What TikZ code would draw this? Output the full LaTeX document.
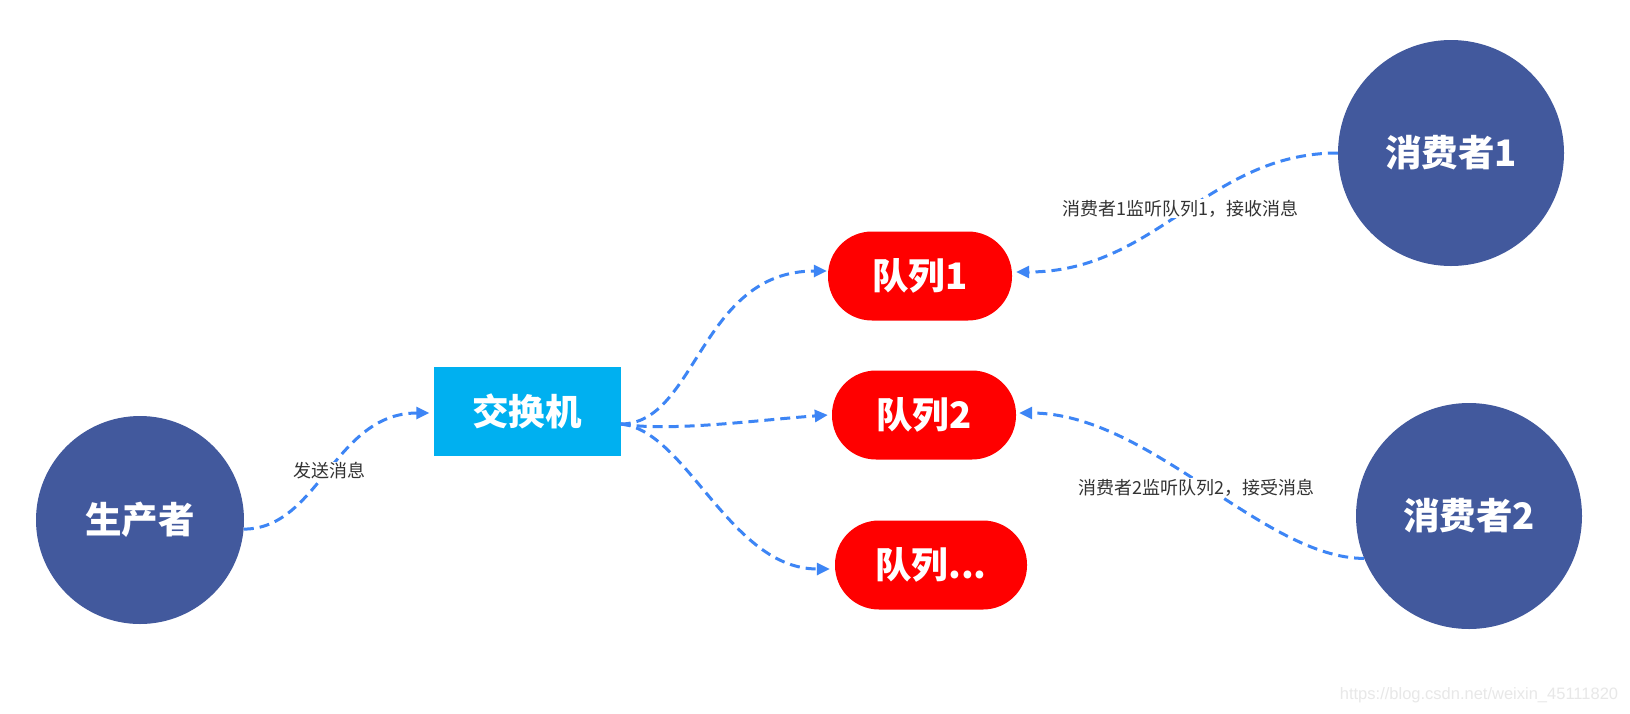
\documentclass[tikz,border=0pt]{standalone}
\usepackage{fontspec}
\newfontfamily\cjk{Noto Sans CJK SC}
\newfontfamily\wmfont{Liberation Sans}
\usetikzlibrary{arrows.meta}
\definecolor{dblue}{RGB}{66,89,157}
\definecolor{cyanbox}{RGB}{0,176,240}
\definecolor{qred}{RGB}{255,0,0}
\definecolor{lineblue}{RGB}{61,133,245}
\definecolor{lbltext}{RGB}{51,51,51}
\definecolor{wmgray}{RGB}{232,232,232}
\begin{document}
\begin{tikzpicture}[x=1pt,y=-1pt,
  bigtxt/.style={text=white, font=\cjk\bfseries\fontsize{36.5}{40}\selectfont},
  actor/.style={circle, fill=dblue, draw=none, bigtxt, inner sep=0pt},
  exbox/.style={rectangle, fill=cyanbox, minimum width=187pt, minimum height=89pt, bigtxt, inner sep=0pt},
  queue/.style={rectangle, rounded corners=44pt, fill=qred, minimum height=89pt, bigtxt, inner sep=0pt},
  flow/.style={draw=lineblue, line width=3pt, dash pattern=on 10pt off 6pt, -{Triangle[length=13pt,width=12pt]}},
  lbl/.style={fill=white, text=lbltext, font=\cjk\fontsize{18}{21}\selectfont, inner sep=1pt},
  wmark/.style={text=wmgray, font=\wmfont\fontsize{16.5}{19}\selectfont, inner sep=0pt}
]
\useasboundingbox[fill=white] (0,0) rectangle (1630,713);

\node[actor, minimum size=208pt] (prod) at (140,520) {生产者};
\node[exbox] (ex) at (527,411) {交换机};
\node[queue, minimum width=184pt] (q1) at (920,276) {队列1};
\node[queue, minimum width=184pt] (q2) at (924,415) {队列2};
\node[queue, minimum width=192pt] (q3) at (931,565) {队列...};
\node[actor, minimum size=226pt] (c1) at (1451,153) {消费者1};
\node[actor, minimum size=226pt] (c2) at (1469,516) {消费者2};

\coordinate (exout) at ([yshift=-13pt]ex.east);

\draw[flow] (prod.-5) .. controls +(75,0) and +(-95,0) .. node[lbl] {发送消息} ([xshift=-4pt,yshift=-2pt]ex.west);
\draw[flow] (exout) .. controls +(76,0) and +(-127,0) .. ([xshift=-1pt,yshift=5pt]q1.west);
\draw[flow] (exout) .. controls +(50,8) and +(-70,5) .. ([xshift=-4pt]q2.west);
\draw[flow] (exout) .. controls +(66,6) and +(-100,0) .. ([xshift=-5pt,yshift=-4pt]q3.west);
\draw[flow] (c1.west) .. controls +(-130,0) and +(140,0) .. node[lbl, yshift=4pt] {消费者1监听队列1，接收消息} ([xshift=4pt,yshift=4pt]q1.east);
\draw[flow] (c2.202) .. controls +(-100,0) and +(130,0) .. node[lbl, xshift=-6pt, yshift=-2pt] {消费者2监听队列2，接受消息} ([xshift=3pt,yshift=2pt]q2.east);

\node[wmark] (wm) at (1479,695) {https://blog.csdn.net/weixin\_45111820};
\end{tikzpicture}
\end{document}
